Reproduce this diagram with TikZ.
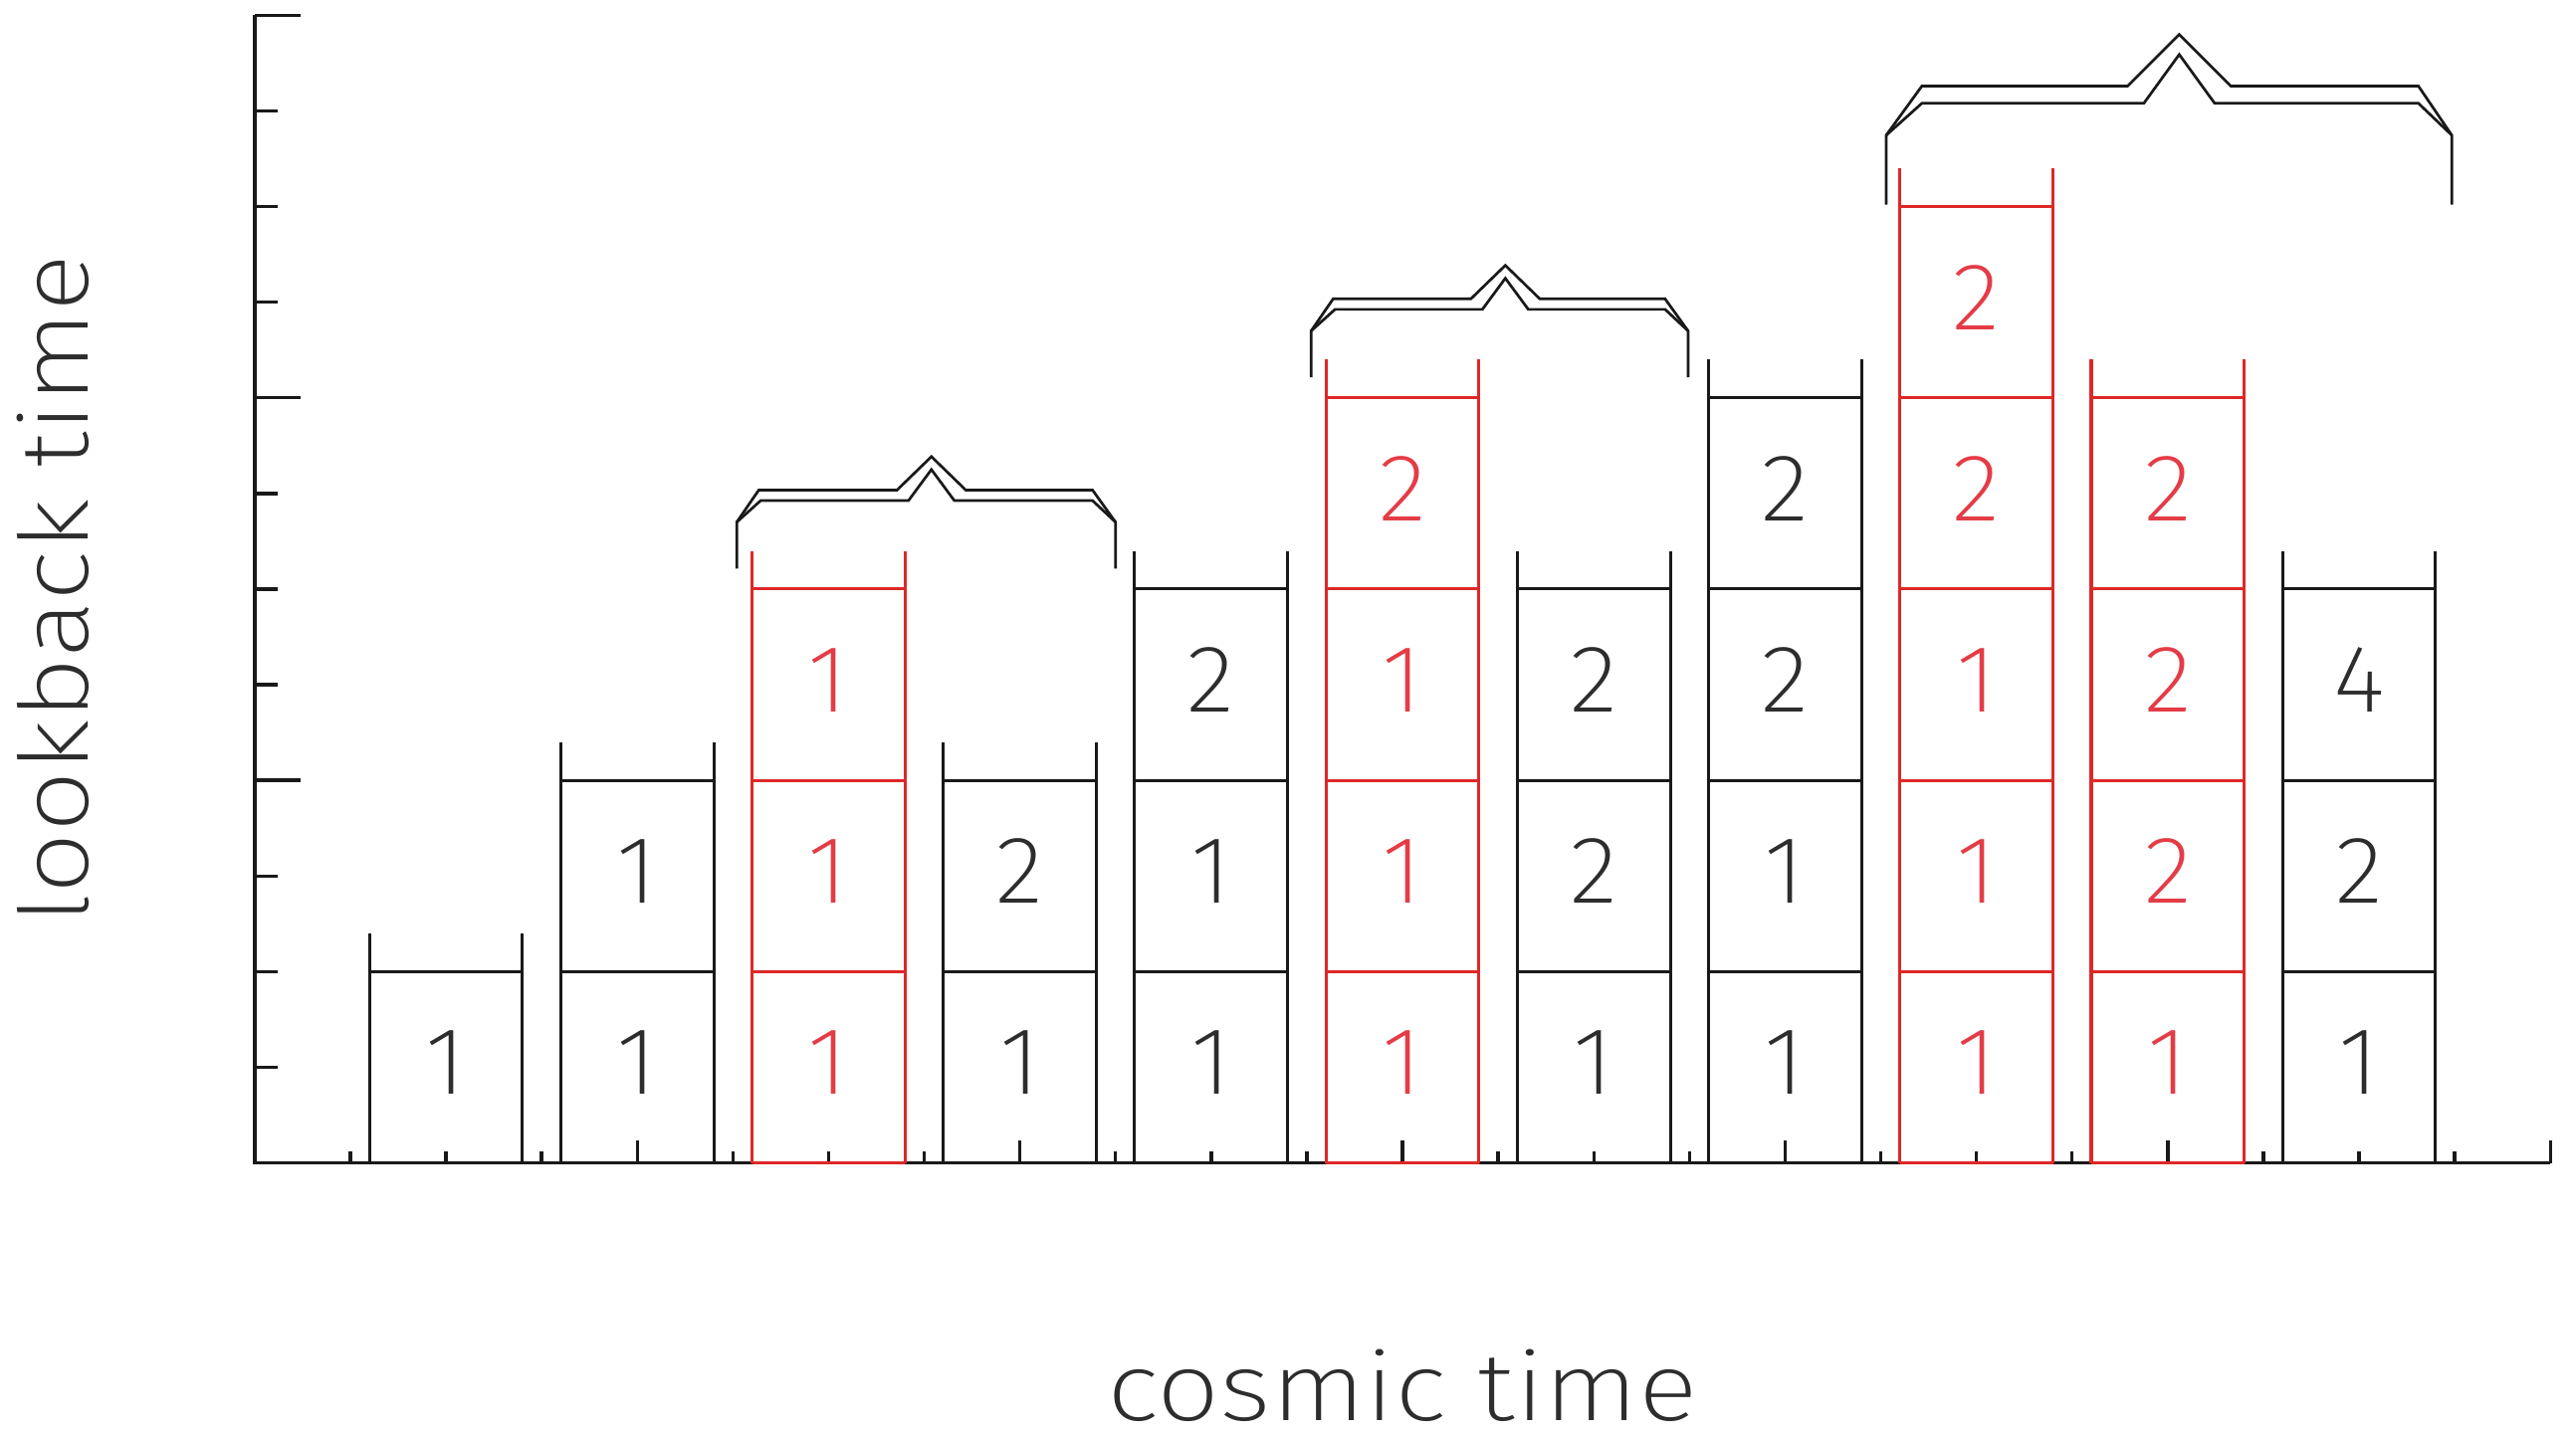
\documentclass[tikz,border=0pt]{standalone}
\usepackage{fontspec}
\setmainfont{Liberation Sans}
\newfontfamily\thinfont{Fira Sans ExtraLight}
\usepackage{graphicx}
\definecolor{boxred}{RGB}{222,40,40}
\definecolor{txtred}{RGB}{228,60,70}
\definecolor{ink}{RGB}{25,25,25}
\definecolor{digink}{RGB}{45,45,45}
\begin{document}
\begin{tikzpicture}[x=1cm,y=1cm,line width=0.9pt,
  axisline/.style={draw=ink,line width=1pt},
  braceline/.style={draw=ink,line width=0.8pt,line join=miter},
  digit/.style={font=\thinfont\fontsize{28.45}{32}\selectfont,inner sep=0pt,anchor=center},
  axlabel/.style={font=\thinfont\fontsize{28.45}{32}\selectfont,text=digink,inner sep=0pt,anchor=base}]
\useasboundingbox (-2.662,-2.855) rectangle (24.268,12.16);

% axes
\coordinate (O) at (0,0);
\coordinate (ytop) at (0,12);
\coordinate (xend) at (24,0);
\draw[axisline] (ytop) -- (O) -- (xend);
\foreach \y in {0,...,12}{
  \pgfmathsetmacro{\tl}{mod(\y,4)==0 ? 0.48 : 0.24}
  \draw[axisline] (0,\y) -- (\tl,\y);
}
\foreach \x in {1,...,24}{
  \pgfmathsetmacro{\tl}{mod(\x,4)==0 ? 0.23 : 0.12}
  \draw[axisline] (\x,0) -- (\x,\tl);
}

% stacked boxes
\foreach \k/\lc/\tc/\vals in {
  1/ink/digink/{1},
  2/ink/digink/{1,1},
  3/boxred/txtred/{1,1,1},
  4/ink/digink/{1,2},
  5/ink/digink/{1,1,2},
  6/boxred/txtred/{1,1,1,2},
  7/ink/digink/{1,2,2},
  8/ink/digink/{1,1,2,2},
  9/boxred/txtred/{1,1,1,2,2},
  10/boxred/txtred/{1,2,2,2},
  11/ink/digink/{1,2,4}}{
  \foreach \v [count=\n from 0] in \vals {
    \draw[draw=\lc] ({2*\k-0.8},{2*\n}) -- ({2*\k-0.8},{2*\n+2.4});
    \draw[draw=\lc] ({2*\k+0.8},{2*\n}) -- ({2*\k+0.8},{2*\n+2.4});
    \draw[draw=\lc] ({2*\k-0.8},{2*\n}) -- ({2*\k+0.8},{2*\n});
    \draw[draw=\lc] ({2*\k-0.8},{2*\n+2}) -- ({2*\k+0.8},{2*\n+2});
    \node[digit,text=\tc] (d-\k-\n) at ({2*\k},{2*\n+1.05}) {\scalebox{1.05}[1]{\v}};
  }
}

% braces
% brace 1
\draw[braceline] (5.04,6.215) -- (5.04,6.70) -- (5.27,7.035) -- (6.715,7.035) -- (7.075,7.385)
  -- (7.435,7.035) -- (8.76,7.035) -- (9.0,6.70) -- (9.0,6.215);
\draw[braceline] (5.04,6.70) -- (5.29,6.925) -- (6.835,6.925) -- (7.075,7.25) -- (7.315,6.925)
  -- (8.76,6.925) -- (9.0,6.70);
% brace 2
\draw[braceline] (11.045,8.215) -- (11.045,8.70) -- (11.275,9.035) -- (12.715,9.035) -- (13.075,9.385)
  -- (13.435,9.035) -- (14.745,9.035) -- (14.985,8.70) -- (14.985,8.215);
\draw[braceline] (11.045,8.70) -- (11.295,8.925) -- (12.835,8.925) -- (13.075,9.25) -- (13.315,8.925)
  -- (14.745,8.925) -- (14.985,8.70);
% brace 3
\draw[braceline] (17.056,10.02) -- (17.056,10.745) -- (17.43,11.26) -- (19.58,11.26) -- (20.12,11.80)
  -- (20.66,11.26) -- (22.62,11.26) -- (22.97,10.745) -- (22.97,10.02);
\draw[braceline] (17.056,10.745) -- (17.43,11.08) -- (19.75,11.08) -- (20.12,11.59) -- (20.49,11.08)
  -- (22.62,11.08) -- (22.97,10.745);

% axis labels
\node[axlabel] (xlabel) at (12,-2.69) {\resizebox{6.18cm}{\height}{cosmic time}};
\node[axlabel,rotate=90] (ylabel) at (-1.746,6) {\resizebox{7.0cm}{\height}{lookback time}};
\end{tikzpicture}
\end{document}
